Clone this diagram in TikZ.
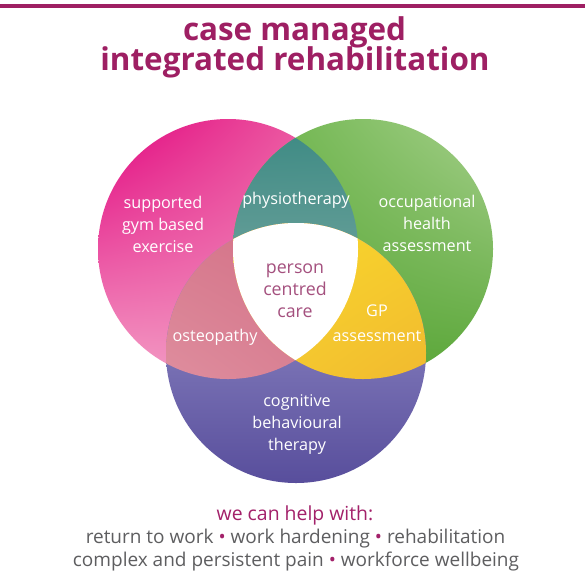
\documentclass[tikz,border=0pt]{standalone}
\usepackage{fontspec}
\setmainfont{Open Sans}
\usetikzlibrary{shadings}
\definecolor{brand}{HTML}{9E1F63}
\definecolor{helpc}{HTML}{A3216A}
\definecolor{grayt}{HTML}{5E5E60}
\definecolor{pcc}{HTML}{A4507E}
\definecolor{pkUL}{RGB}{226,5,126}
\definecolor{pkUR}{RGB}{238,110,170}
\definecolor{pkLL}{RGB}{244,158,198}
\definecolor{pkLR}{RGB}{238,140,186}
\definecolor{grUL}{RGB}{104,178,70}
\definecolor{grUR}{RGB}{166,208,140}
\definecolor{grLL}{RGB}{92,168,58}
\definecolor{grLR}{RGB}{90,166,56}
\definecolor{puT}{RGB}{156,151,206}
\definecolor{puB}{RGB}{88,78,156}
\definecolor{tlUL}{RGB}{58,136,130}
\definecolor{tlUR}{RGB}{62,140,132}
\definecolor{tlLL}{RGB}{140,178,172}
\definecolor{tlLR}{RGB}{130,172,166}
\definecolor{roUL}{RGB}{214,120,140}
\definecolor{roUR}{RGB}{210,108,132}
\definecolor{roLL}{RGB}{228,156,170}
\definecolor{roLR}{RGB}{214,124,142}
\definecolor{yeUL}{RGB}{250,222,46}
\definecolor{yeUR}{RGB}{246,206,44}
\definecolor{yeLL}{RGB}{244,200,48}
\definecolor{yeLR}{RGB}{238,172,50}
\begin{document}
\begin{tikzpicture}[x=1pt,y=-1pt,
  lbl/.style={text=white, align=center, font=\fontsize{16.2}{22}\selectfont},
  titleline/.style={text=brand, font=\fontsize{31.4}{30}\selectfont\bfseries, anchor=base},
  bottomline/.style={text=grayt, font=\fontsize{19}{23}\selectfont, anchor=base}]
\useasboundingbox (0,0) rectangle (585,576);
\fill[white] (0,0) rectangle (585,576);
\fill[brand] (0,4) rectangle (585,7.5);
\coordinate (P) at (228,249);
\coordinate (G) at (363,249);
\coordinate (Q) at (296,353);
\def\R{130}
% base circles
\shade[upper left=pkUL, upper right=pkUR, lower left=pkLL, lower right=pkLR] (P) circle[radius=\R];
\shade[upper left=grUL, upper right=grUR, lower left=grLL, lower right=grLR] (G) circle[radius=\R];
\shade[top color=puT, bottom color=puB] (Q) circle[radius=\R];
% pink & green
\begin{scope}
  \clip (P) circle[radius=\R];
  \shade[upper left=tlUL, upper right=tlUR, lower left=tlLL, lower right=tlLR] (G) circle[radius=\R];
\end{scope}
% pink & purple
\begin{scope}
  \clip (P) circle[radius=\R];
  \shade[upper left=roUL, upper right=roUR, lower left=roLL, lower right=roLR] (Q) circle[radius=\R];
\end{scope}
% green & purple
\begin{scope}
  \clip (G) circle[radius=\R];
  \shade[upper left=yeUL, upper right=yeUR, lower left=yeLL, lower right=yeLR] (Q) circle[radius=\R];
\end{scope}
% centre
\begin{scope}
  \clip (P) circle[radius=\R];
  \clip (G) circle[radius=\R];
  \fill[white] (Q) circle[radius=\R];
\end{scope}
% title
\node[titleline] (title1) at (294.5,40) {case managed};
\node[titleline] (title2) at (295,70) {integrated rehabilitation};
% labels
\node[lbl] (gym) at (163,224) {supported\\gym based\\exercise};
\node[lbl] (physio) at (296,200) {physiotherapy};
\node[lbl] (occ) at (427,223) {occupational\\health\\assessment};
\node[lbl, text=pcc, font=\fontsize{17.8}{22}\selectfont] (pcc) at (295,291) {person\\centred\\care};
\node[lbl] (osteo) at (215,337) {osteopathy};
\node[lbl, font=\fontsize{16.2}{25}\selectfont] (gp) at (377,323) {GP\\assessment};
\node[lbl] (cbt) at (297,424) {cognitive\\behavioural\\therapy};
% bottom
\node[text=helpc, font=\fontsize{19.4}{20}\selectfont, anchor=base] (help) at (295,520) {we can help with:};
\node[bottomline] (l1) at (295.5,543) {return to work {\color{helpc}•} work hardening {\color{helpc}•} rehabilitation};
\node[bottomline] (l2) at (296,566) {complex and persistent pain {\color{helpc}•} workforce wellbeing};
\end{tikzpicture}
\end{document}
